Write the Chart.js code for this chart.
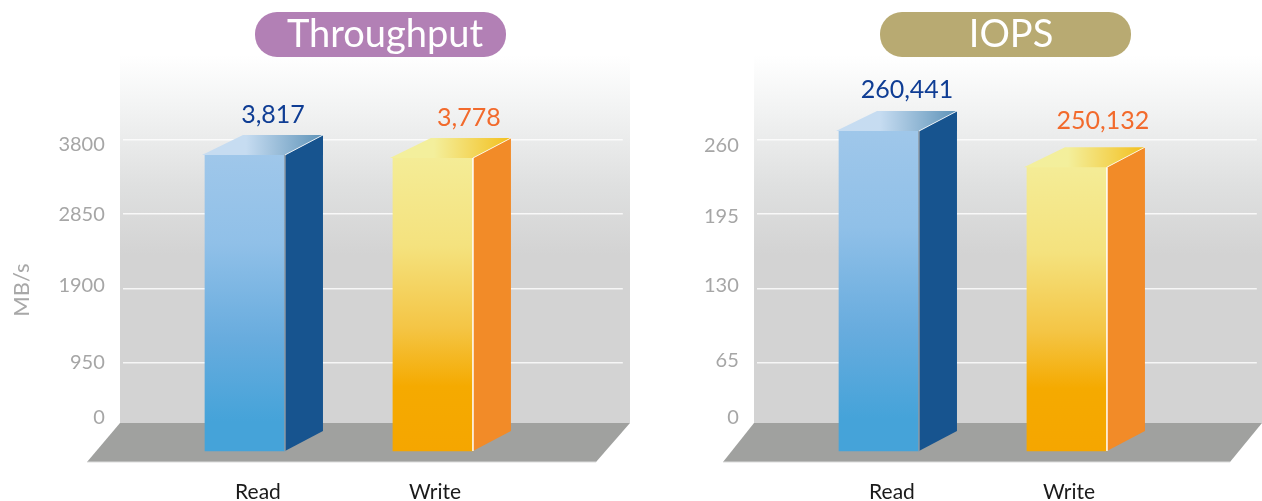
<!DOCTYPE html>
<html>
<head>
<meta charset="utf-8">
<style>
  body { margin: 0; background: #fff; overflow: hidden; }
  canvas { position: absolute; top: 0; }
</style>
<script src="https://cdn.jsdelivr.net/npm/chart.js@4/dist/chart.umd.min.js"></script>
</head>
<body>
<canvas id="throughputChart" width="631" height="501" style="left:0"></canvas>
<canvas id="iopsChart" width="631" height="501" style="left:631px"></canvas>
<script>
const categories = ["Read", "Write"];

const throughputValues = [3817, 3778];
const throughputLabels = ["3,817", "3,778"];
const throughputTicks = [0, 950, 1900, 2850, 3800];

// IOPS bars in the picture are not to scale with their printed numbers,
// so the heights are read off the picture, in thousands
const iopsHeights = [260.4, 231];
const iopsLabels = ["260,441", "250,132"];
const iopsTicks = [0, 65, 130, 195, 260];

const FONT = "Lato, Carlito, sans-serif";
const frontStops = [
  [[0, "#9fc7ea"], [0.3, "#90c0e8"], [0.62, "#68acde"], [0.9, "#45a3d9"], [1, "#45a3d9"]],
  [[0, "#f4ec96"], [0.3, "#f4e27e"], [0.58, "#f4c545"], [0.78, "#f5aa00"], [1, "#f5a600"]]
];
const sideColors = ["#17548f", "#f28b28"];
const topStops = [["#c6dcf1", "#5e93b8"], ["#f3ef9c", "#f3bf1d"]];
const edgeColors = ["#8f9aa5", "#ffffff"];
const labelColors = ["#0f3d94", "#f26a2c"];

// scene drawn behind the plot: wall, floor, title pill, 3d faces
const scene = {
  id: "scene",
  beforeDraw(chart, args, o) {
    const c = chart.ctx;
    c.save();
    const wall = c.createLinearGradient(0, 55, 0, 255);
    wall.addColorStop(0, "#ffffff");
    wall.addColorStop(0.25, "#f3f4f4");
    wall.addColorStop(0.65, "#dfe0e0");
    wall.addColorStop(1, "#d3d3d3");
    c.fillStyle = wall;
    c.fillRect(o.wall[0], 55, o.wall[1] - o.wall[0], 368);
    c.fillStyle = "#a0a19f";
    c.strokeStyle = "#dcdcdc";
    c.beginPath();
    o.floor.forEach((p, i) => i ? c.lineTo(p[0], p[1]) : c.moveTo(p[0], p[1]));
    c.closePath();
    c.fill();
    c.beginPath();
    c.moveTo(o.floor[2][0], o.floor[2][1]);
    c.lineTo(o.floor[3][0], o.floor[3][1]);
    c.stroke();
    c.restore();

    // move the tick labels to where the picture has them
    const nudge = (scale, list, key) => scale.getLabelItems().forEach((item, i) => {
      if (item.nudged) return;
      item.options.translation[key] += list[i];
      item.nudged = true;
    });
    nudge(chart.scales.y, o.yNudge, 1);
    nudge(chart.scales.x, [13, 2], 0);
  },
  afterDatasetsDraw(chart, args, o) {
    const c = chart.ctx;
    const dx = 38, dy = -20;
    c.save();
    chart.getDatasetMeta(0).data.forEach((bar, i) => {
      const l = bar.x - bar.width / 2, r = bar.x + bar.width / 2;
      const t = bar.y, b = bar.base;

      c.fillStyle = sideColors[i];
      c.beginPath();
      c.moveTo(r, t); c.lineTo(r + dx, t + dy); c.lineTo(r + dx, b + dy); c.lineTo(r, b);
      c.closePath();
      c.fill();

      const g = c.createLinearGradient(l + 8, 0, r + dx, 0);
      g.addColorStop(0, topStops[i][0]);
      g.addColorStop(0.3, topStops[i][0]);
      g.addColorStop(1, topStops[i][1]);
      c.fillStyle = g;
      c.beginPath();
      c.moveTo(l - 3, t); c.lineTo(r, t); c.lineTo(r + dx, t + dy); c.lineTo(l + dx, t + dy);
      c.closePath();
      c.fill();

      c.strokeStyle = edgeColors[i];
      c.lineWidth = 1.5;
      c.beginPath();
      c.moveTo(r, b); c.lineTo(r, t);
      c.stroke();
      c.strokeStyle = "rgba(255,255,255,.8)";
      c.lineWidth = 1;
      c.beginPath();
      c.moveTo(r, t); c.lineTo(r + dx, t + dy);
      c.stroke();

      c.fillStyle = labelColors[i];
      c.font = "25px " + FONT;
      c.textAlign = "center";
      c.textBaseline = "middle";
      c.fillText(o.labels[i], bar.x + o.labelPos[i][0], t + o.labelPos[i][1]);
    });

    // title pill
    const px = o.pill[0], pw = o.pill[1];
    c.fillStyle = o.pillColor;
    c.beginPath();
    c.roundRect(px, 12, pw, 45, 22);
    c.fill();
    c.fillStyle = "#ffffff";
    c.font = "38px " + FONT;
    c.textAlign = "center";
    c.textBaseline = "middle";
    c.fillText(o.title, o.titleX, 35);

    if (o.unit) {
      c.translate(22, 290);
      c.rotate(-Math.PI / 2);
      c.fillStyle = "#a8a8a8";
      c.font = "22px " + FONT;
      c.fillText(o.unit, 0, 0);
    }
    c.restore();
  }
};

function barFill(ctx) {
  const chart = ctx.chart;
  if (!chart.chartArea || !ctx.raw) return "#9fc7ea";
  const scale = chart.scales.yBar;
  const g = chart.ctx.createLinearGradient(0, scale.getPixelForValue(ctx.raw.y), 0, scale.getPixelForValue(0));
  frontStops[ctx.dataIndex].forEach(s => g.addColorStop(s[0], s[1]));
  return g;
}

function makeChart(id, values, ticks, yRange, barRange, left, sceneOpts) {
  return new Chart(document.getElementById(id), {
    type: "bar",
    data: {
      datasets: [{
        data: values.map((v, i) => ({ x: i, y: v })),
        yAxisID: "yBar",
        barThickness: 80,
        backgroundColor: barFill,
        borderWidth: 0
      }]
    },
    plugins: [scene],
    options: {
      responsive: false,
      animation: false,
      layout: { padding: { top: 55, right: 631 - left - 500, left: 0, bottom: 0 } },
      plugins: { legend: { display: false }, tooltip: { enabled: false }, scene: sceneOpts },
      scales: {
        x: {
          type: "linear",
          offset: false,
          min: -0.65,
          max: 2.01,
          afterBuildTicks: s => { s.ticks = categories.map((c, i) => ({ value: i })); },
          afterFit: s => { s.height = 36; },
          grid: { display: false },
          border: { display: false },
          ticks: {
            callback: v => categories[v],
            autoSkip: false,
            maxRotation: 0,
            padding: 7,
            color: "#1a1a1a",
            font: { family: FONT, size: 21 }
          }
        },
        y: {
          min: yRange[0],
          max: yRange[1],
          afterBuildTicks: s => { s.ticks = ticks.map(v => ({ value: v })); },
          afterFit: s => { s.width = left; },
          grid: {
            drawTicks: false,
            lineWidth: 1.5,
            color: c => c.tick.value === 0 ? "transparent" : "rgba(255,255,255,.8)"
          },
          border: { display: false },
          ticks: {
            callback: v => String(v),
            autoSkip: false,
            padding: 18,
            color: "#a6a6a6",
            font: { family: FONT, size: 20 }
          }
        },
        yBar: { display: false, min: barRange[0], max: barRange[1] }
      }
    }
  });
}

makeChart("throughputChart", throughputValues, throughputTicks, [-350, 4877], [-180.5, 5106.5], 122.8, {
  wall: [120, 630],
  floor: [[120, 423], [630, 423], [596, 462], [87, 462]],
  yNudge: [-19.5, 0, -2.5, 0.5, 5],
  labels: throughputLabels,
  labelPos: [[28, -40], [36, -40]],
  pill: [255, 251],
  pillColor: "#b280b5",
  title: "Throughput",
  titleX: 385,
  unit: "MB/s"
});

makeChart("iopsChart", iopsHeights, iopsTicks, [-24, 333.8], [-11.4, 322.3], 125.8, {
  wall: [123, 631],
  floor: [[123, 423], [631, 423], [599, 462], [92, 462]],
  yNudge: [-19.5, -2, -2.5, 2, 5.5],
  labels: iopsLabels,
  labelPos: [[28, -41], [36, -46]],
  pill: [249, 251],
  pillColor: "#b8aa72",
  title: "IOPS",
  titleX: 380
});
</script>
</body>
</html>
